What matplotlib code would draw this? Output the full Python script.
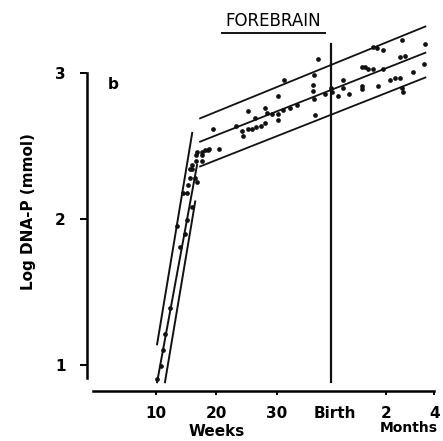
import numpy as np
import matplotlib.pyplot as plt
from matplotlib.lines import Line2D

plt.rcParams['font.family'] = 'DejaVu Sans'

# age in weeks from conception, log DNA-P (mmol)
early_age = [10.2, 10.8, 11.2, 11.5, 12.3, 13.5, 14.0, 14.5, 15.1, 14.8, 15.1, 16.0,
             15.6, 16.4, 16.8, 15.3, 15.6, 16.0, 16.0, 16.6, 16.6, 16.8, 17.6, 17.6]
early_dna = [0.90, 0.99, 1.10, 1.21, 1.39, 1.95, 1.81, 2.18, 2.18, 1.90, 1.99, 2.08,
             2.28, 2.28, 2.25, 2.23, 2.34, 2.34, 2.37, 2.40, 2.44, 2.46, 2.44, 2.40]

late_age = [17.6, 18.1, 18.6, 18.8, 20.4, 19.4, 23.2, 25.2, 26.4, 24.2, 24.4, 25.2,
            25.9, 26.5, 27.4, 28.0, 28.0, 28.4, 29.2, 30.2, 31.0, 30.2, 30.2, 31.2,
            32.2, 33.3, 36.8, 36.1, 36.0, 36.0, 36.1, 36.3, 37.9, 38.9, 39.1, 40.1,
            40.9, 40.9, 41.9, 44.1, 44.6, 45.0, 45.9, 47.5, 44.1, 44.1, 46.7, 48.7,
            49.5, 50.3, 50.7, 50.8, 52.5, 54.3, 45.9, 46.5, 47.5, 50.7, 54.5, 50.3, 51.2]
late_dna = [2.46, 2.47, 2.47, 2.48, 2.48, 2.62, 2.64, 2.74, 2.69, 2.60, 2.57, 2.62,
            2.62, 2.63, 2.64, 2.66, 2.76, 2.73, 2.72, 2.84, 2.75, 2.72, 2.68, 2.95,
            2.76, 2.78, 3.10, 2.99, 2.92, 2.88, 2.82, 2.71, 2.86, 2.90, 2.87, 2.84,
            2.95, 2.90, 2.86, 3.04, 3.04, 3.03, 3.03, 3.03, 2.91, 2.89, 2.91, 2.95,
            2.97, 2.97, 2.90, 2.87, 3.01, 3.06, 3.18, 3.17, 3.16, 3.23, 3.20, 3.11, 3.12]

# regression line and limits, fast phase
steep_x = [[10.2, 16.0], [10.2, 16.8], [11.5, 16.5]]
steep_y = [[1.14, 2.59], [0.88, 2.37], [0.88, 2.12]]
# regression line and limits, slow phase
slow_x = [17.3, 54.5]
slow_y = [[2.69, 3.32], [2.53, 3.14], [2.36, 2.97]]

birth_week = 39.0
tick_pos = [10, 20, 30, 39.6, 48, 56]
tick_lab = ['10', '20', '30', 'Birth', '2', '4']

ink = '#111111'

fig = plt.figure(figsize=(4.43, 4.41), dpi=100)
ax = fig.add_axes([0.196, 0.1134, 0.797, 0.853])

for xs, ys in zip(steep_x, steep_y):
    ax.plot(xs, ys, color=ink, lw=1.4)
for ys in slow_y:
    ax.plot(slow_x, ys, color=ink, lw=1.3)
ax.plot([birth_week, birth_week], [0.88, 3.2], color=ink, lw=1.6)

ax.plot(early_age, early_dna, 'o', color=ink, ms=3.4, mew=0)
ax.plot(late_age, late_dna, 'o', color=ink, ms=3.4, mew=0)

ax.set_xlim(-1.4, 56.9)
ax.set_ylim(0.82, 3.4)
for s in ['top', 'right']:
    ax.spines[s].set_visible(False)
ax.spines['left'].set_bounds(0.91, 3.0)
ax.spines['bottom'].set_bounds(-0.4, 56)
ax.spines['left'].set_linewidth(1.8)
ax.spines['bottom'].set_linewidth(1.8)

ax.set_yticks([1, 2, 3])
ax.set_yticklabels(['1', '2', '3'], fontweight='bold', fontsize=11)
ax.set_xticks(tick_pos)
ax.set_xticklabels(tick_lab, fontweight='bold', fontsize=11)
ax.tick_params(axis='y', direction='out', length=5, width=1.4, pad=10)
ax.tick_params(axis='x', direction='out', length=3, width=1.4, pad=8)
ax.xaxis.get_major_ticks()[3].tick1line.set_visible(False)

ax.set_ylabel('Log DNA-P (mmol)', fontsize=11, fontweight='bold')
ax.yaxis.set_label_coords(-0.145, 0.476)

ax.text(20, -0.108, 'Weeks', transform=ax.get_xaxis_transform(),
        ha='center', va='center', fontsize=11, fontweight='bold')
ax.text(51.8, -0.098, 'Months', transform=ax.get_xaxis_transform(),
        ha='center', va='center', fontsize=10, fontweight='bold')
ax.text(0.075, 0.815, 'b', transform=ax.transAxes, ha='center', va='center',
        fontsize=11, fontweight='bold')

fig.text(273 / 443, 1 - 21 / 441, 'FOREBRAIN', ha='center', va='center',
         fontsize=12)
fig.add_artist(Line2D([222 / 443, 325 / 443], [1 - 33 / 441, 1 - 33 / 441],
                      color=ink, lw=1.4))

fig.savefig('out.png', dpi=100)
